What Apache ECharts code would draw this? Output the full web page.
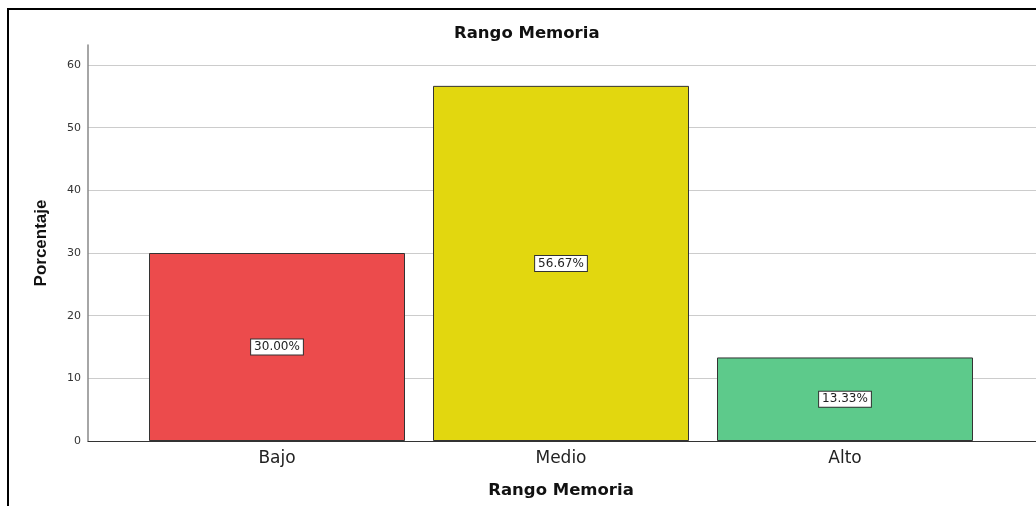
<!DOCTYPE html>
<html><head><meta charset="utf-8">
<script src="https://cdn.jsdelivr.net/npm/echarts@6/dist/echarts.min.js"></script>
<style>
html,body{margin:0;padding:0;background:#fff;}
#frame{position:absolute;left:7px;top:8px;width:1100px;height:600px;border-left:2px solid #000;border-top:2px solid #000;}
#chart{position:absolute;left:0;top:0;width:1036px;height:506px;}
</style></head>
<body>
<div id="frame"></div>
<div id="chart"></div>
<script>
const categories = ['Bajo', 'Medio', 'Alto'];
const percentages = [30.00, 56.67, 13.33];
const barColors = ['#EC4B4C', '#E2D70F', '#5DCA8B'];
const yTicks = [0, 10, 20, 30, 40, 50, 60];
const yMax = 60;
const yAxisTop = 63.2;

const FONT = 'DejaVu Sans, Verdana, sans-serif';
const chart = echarts.init(document.getElementById('chart'), null, {renderer: 'canvas'});
const bottom = 506 - 441;
const option = {
  animation: false,
  title: {
    text: 'Rango Memoria', left: 449, top: 20,
    textStyle: {fontFamily: FONT, fontSize: 16.5, fontWeight: 'bold', color: '#111'}
  },
  grid: [
    {left: 88, right: -10, top: 45, bottom: bottom},
    {left: 88, right: -10, top: 65, bottom: bottom},
    {left: 135, right: 49, top: 65, bottom: bottom}
  ],
  xAxis: [
    {gridIndex: 0, type: 'category', data: categories, axisLine: {show: true, lineStyle: {color: '#333', width: 1}},
     axisTick: {show: false}, axisLabel: {show: false}},
    {gridIndex: 1, type: 'category', data: categories, show: false},
    {gridIndex: 2, type: 'category', data: categories, axisLine: {show: false}, axisTick: {show: false},
     axisLabel: {margin: 9, fontFamily: FONT, fontSize: 17, color: '#222'},
     name: 'Rango Memoria', nameLocation: 'middle', nameGap: 41,
     nameTextStyle: {fontFamily: FONT, fontSize: 16.5, fontWeight: 'bold', color: '#111'}}
  ],
  yAxis: [
    {gridIndex: 0, type: 'value', min: 0, max: yAxisTop, interval: 10,
     axisLine: {show: true, lineStyle: {color: '#888', width: 1.5}}, axisTick: {show: false}, splitLine: {show: false},
     axisLabel: {margin: 7, fontFamily: FONT, fontSize: 11, color: '#333',
       formatter: v => yTicks.indexOf(v) >= 0 ? String(v) : ''},
     name: 'Porcentaje', nameLocation: 'middle', nameGap: 38, nameRotate: 90,
     nameTextStyle: {fontFamily: 'Liberation Sans Narrow, Arial Narrow, Liberation Sans', fontSize: 17, fontWeight: 'bold', color: '#111'}},
    {gridIndex: 1, type: 'value', min: 0, max: yMax, interval: 10,
     axisLine: {show: false}, axisTick: {show: false}, axisLabel: {show: false},
     splitLine: {show: true, lineStyle: {color: '#cccccc', width: 1}}},
    {gridIndex: 2, type: 'value', min: 0, max: yMax, interval: 10, show: false, splitLine: {show: false}}
  ],
  series: [{
    type: 'bar', xAxisIndex: 2, yAxisIndex: 2,
    barWidth: 256,
    data: percentages.map((v, i) => ({value: v, itemStyle: {color: barColors[i]}})),
    itemStyle: {borderColor: '#333', borderWidth: 1},
    label: {
      show: true, position: 'inside',
      formatter: p => p.value.toFixed(2) + '%',
      fontFamily: FONT, fontSize: 12, color: '#222',
      backgroundColor: '#fff', borderColor: '#333', borderWidth: 1, padding: [2, 3, 1, 3]
    }
  }]
};
chart.setOption(option);
</script>
</body></html>
